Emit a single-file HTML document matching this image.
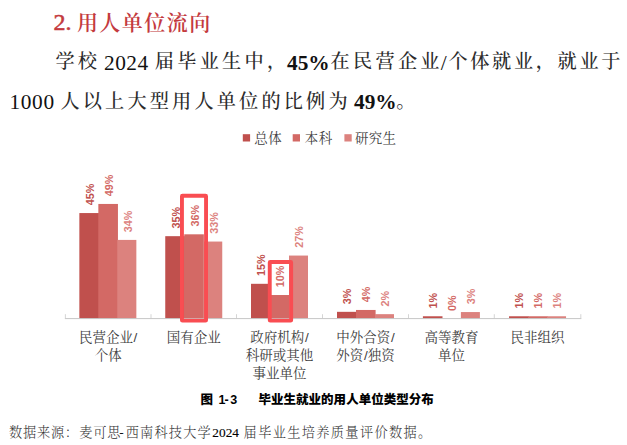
<!DOCTYPE html>
<html lang="zh-CN"><head><meta charset="utf-8"><title>用人单位流向</title>
<style>html,body{margin:0;padding:0;background:#fff}body{width:627px;height:445px;overflow:hidden}svg{display:block}text{white-space:pre}</style></head><body>
<svg width="627" height="445" viewBox="0 0 627 445">
<rect width="627" height="445" fill="#fff"/>
<g font-family='"Liberation Serif","Noto Serif CJK SC",serif' font-weight="bold" font-size="21.33" fill="#C43A3E">
<text x="53.6" y="29.6" font-size="24" font-weight="normal" stroke="#C43A3E" stroke-width="0.55">2.</text>
<text x="76.9" y="29.9" font-size="21" font-weight="600" letter-spacing="1.45">用人单位流向</text>
</g>
<g font-family='"Liberation Serif","Noto Serif CJK SC",serif' font-size="21.33" fill="#111111">
<text x="55.4" y="68.4" font-size="19.20" font-weight="500" fill="#2b2b2b" letter-spacing="3.25">学校</text>
<text x="104.0" y="69.7" letter-spacing="0.5">2024</text>
<text x="154.8" y="68.4" font-size="19.20" font-weight="500" fill="#2b2b2b" letter-spacing="3.25">届毕业生中，</text>
<text x="287.0" y="69.7" font-weight="bold">45%</text>
<text x="330.6" y="68.4" font-size="19.20" font-weight="500" fill="#2b2b2b" letter-spacing="3.25">在民营企业</text>
<text x="440.8" y="69.7">/</text>
<text x="448.4" y="68.4" font-size="19.20" font-weight="500" fill="#2b2b2b" letter-spacing="2.65">个体就业，就业于</text>
<text x="9.6" y="109.4" letter-spacing="0.6">1000</text>
<text x="60.4" y="108.1" font-size="19.20" font-weight="500" fill="#2b2b2b" letter-spacing="3.15">人以上大型用人单位的比例为</text>
<text x="354.0" y="109.4" font-weight="bold">49%</text>
<text x="396.2" y="108.1" font-size="19.20" font-weight="500" fill="#2b2b2b" letter-spacing="3.25">。</text>
</g>
<g font-family='"Liberation Serif","Noto Serif CJK SC",serif' font-size="13.5" fill="#404040" letter-spacing="0.35">
<rect x="242.8" y="134.2" width="7.3" height="7.3" fill="#C0504D"/>
<text x="254.3" y="142.9">总体</text>
<rect x="292.7" y="134.2" width="7.3" height="7.3" fill="#D36965"/>
<text x="304.8" y="142.9">本科</text>
<rect x="344.4" y="134.2" width="7.3" height="7.3" fill="#DC827E"/>
<text x="354.9" y="142.9">研究生</text>
</g>
<rect x="79.35" y="213.06" width="19.60" height="105.54" fill="#C0504D"/>
<rect x="98.35" y="203.95" width="19.60" height="114.65" fill="#D36965"/>
<rect x="117.35" y="239.91" width="19.00" height="78.69" fill="#DC827E"/>
<rect x="165.25" y="236.17" width="19.60" height="82.43" fill="#C0504D"/>
<rect x="184.25" y="234.31" width="19.60" height="84.29" fill="#D36965"/>
<rect x="203.25" y="241.55" width="19.00" height="77.05" fill="#DC827E"/>
<rect x="251.00" y="283.81" width="19.60" height="34.79" fill="#C0504D"/>
<rect x="270.00" y="295.02" width="19.60" height="23.58" fill="#D36965"/>
<rect x="289.00" y="255.56" width="19.00" height="63.05" fill="#DC827E"/>
<rect x="337.00" y="311.83" width="19.60" height="6.77" fill="#C0504D"/>
<rect x="356.00" y="309.96" width="19.60" height="8.64" fill="#D36965"/>
<rect x="375.00" y="314.16" width="19.00" height="4.44" fill="#DC827E"/>
<rect x="422.90" y="316.27" width="19.60" height="2.33" fill="#C0504D"/>
<rect x="460.90" y="312.06" width="19.00" height="6.54" fill="#DC827E"/>
<rect x="509.05" y="316.27" width="19.60" height="2.33" fill="#C0504D"/>
<rect x="528.05" y="316.27" width="19.60" height="2.33" fill="#D36965"/>
<rect x="547.05" y="316.27" width="19.00" height="2.33" fill="#DC827E"/>
<g stroke="#C6C6C6" stroke-width="1" fill="none">
<path d="M64.9 318.6H581.3"/>
<path d="M65.4 318.6V314.2" stroke-width="0.8" stroke="#CACACA"/>
<path d="M151.0 318.6V314.2" stroke-width="0.8" stroke="#CACACA"/>
<path d="M236.5 318.6V314.2" stroke-width="0.8" stroke="#CACACA"/>
<path d="M322.5 318.6V314.2" stroke-width="0.8" stroke="#CACACA"/>
<path d="M408.5 318.6V314.2" stroke-width="0.8" stroke="#CACACA"/>
<path d="M494.3 318.6V314.2" stroke-width="0.8" stroke="#CACACA"/>
<path d="M580.8 318.6V314.2" stroke-width="0.8" stroke="#CACACA"/>
</g>
<g font-family='"Liberation Sans","Noto Sans CJK SC",sans-serif' font-weight="bold" font-size="10.8">
<text transform="translate(93.60 205.36) rotate(-90)" fill="#C0504D">45%</text>
<text transform="translate(112.60 196.25) rotate(-90)" fill="#D36965">49%</text>
<text transform="translate(131.60 232.21) rotate(-90)" fill="#DC827E">34%</text>
<text transform="translate(179.50 228.47) rotate(-90)" fill="#C0504D">35%</text>
<text transform="translate(198.50 226.61) rotate(-90)" fill="#D36965">36%</text>
<text transform="translate(217.50 233.85) rotate(-90)" fill="#DC827E">33%</text>
<text transform="translate(265.25 276.11) rotate(-90)" fill="#C0504D">15%</text>
<text transform="translate(284.25 287.32) rotate(-90)" fill="#D36965">10%</text>
<text transform="translate(303.25 247.86) rotate(-90)" fill="#DC827E">27%</text>
<text transform="translate(351.25 304.13) rotate(-90)" fill="#C0504D">3%</text>
<text transform="translate(370.25 302.26) rotate(-90)" fill="#D36965">4%</text>
<text transform="translate(389.25 306.46) rotate(-90)" fill="#DC827E">2%</text>
<text transform="translate(437.15 308.57) rotate(-90)" fill="#C0504D">1%</text>
<text transform="translate(456.15 310.90) rotate(-90)" fill="#D36965">0%</text>
<text transform="translate(475.15 304.36) rotate(-90)" fill="#DC827E">3%</text>
<text transform="translate(523.30 308.57) rotate(-90)" fill="#C0504D">1%</text>
<text transform="translate(542.30 308.57) rotate(-90)" fill="#D36965">1%</text>
<text transform="translate(561.30 308.57) rotate(-90)" fill="#DC827E">1%</text>
</g>
<rect x="181.95" y="195.75" width="24.10" height="124.90" rx="0.5" fill="none" stroke="#F94D52" stroke-width="3.9"/>
<rect x="269.75" y="261.95" width="21.40" height="58.70" rx="0.5" fill="none" stroke="#F94D52" stroke-width="3.9"/>
<g font-family='"Liberation Serif","Noto Serif CJK SC",serif' font-size="13.5" fill="#404040" text-anchor="middle">
<text x="108.2" y="342.1">民营企业<tspan font-family='"Liberation Sans",sans-serif' dx="0.6">/</tspan></text>
<text x="108.2" y="360.1">个体</text>
<text x="193.8" y="342.1">国有企业</text>
<text x="279.5" y="342.1">政府机构<tspan font-family='"Liberation Sans",sans-serif' dx="0.6">/</tspan></text>
<text x="279.5" y="360.1">科研或其他</text>
<text x="279.5" y="378.1">事业单位</text>
<text x="365.5" y="342.1">中外合资<tspan font-family='"Liberation Sans",sans-serif' dx="0.6">/</tspan></text>
<text x="365.5" y="360.1">外资<tspan font-family='"Liberation Sans",sans-serif' dx="0.6">/</tspan>独资</text>
<text x="451.4" y="342.1">高等教育</text>
<text x="451.4" y="360.1">单位</text>
<text x="537.5" y="342.1">民非组织</text>
</g>
<g font-family='"Liberation Sans","Noto Sans CJK SC",sans-serif' font-weight="900" font-size="12.5" fill="#000">
<text x="200.6" y="404.4">图</text>
<text x="218.4 224.6 230.2" y="404.4">1-3</text>
<text x="258.5" y="404.4" letter-spacing="0.02">毕业生就业的用人单位类型分布</text>
</g>
<g font-family='"Liberation Serif","Noto Serif CJK SC",serif' font-size="13.2" font-weight="300" fill="#333">
<text x="9.0" y="436.9" letter-spacing="0.84">数据来源：麦可思</text>
<text x="119.2" y="437.4" font-size="13.33" font-weight="400" fill="#111">-</text>
<text x="125.7" y="436.9" letter-spacing="1.20">西南科技大学</text>
<text x="212.3" y="437.4" font-size="13.33" font-weight="400" fill="#000" stroke="#000" stroke-width="0.12">2024</text>
<text x="243.6" y="436.9" letter-spacing="1.35">届毕业生培养质量评价数据。</text>
</g>
</svg></body></html>
